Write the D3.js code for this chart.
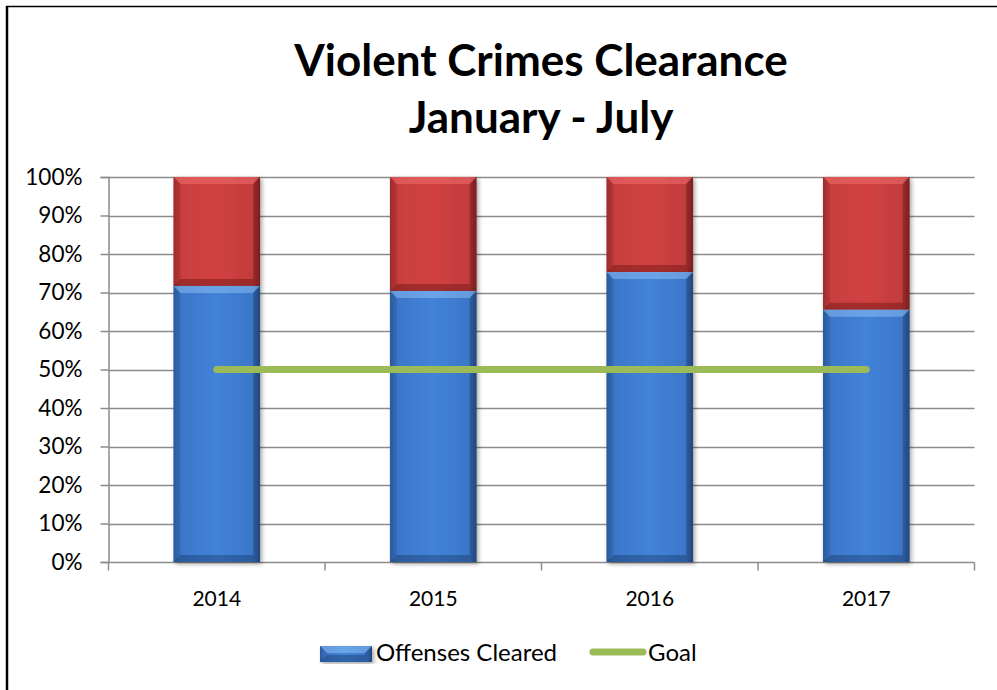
<!DOCTYPE html>
<html><head><meta charset="utf-8">
<script src="https://cdn.jsdelivr.net/npm/d3@7"></script>
<style>
html,body{margin:0;padding:0;background:#fff;}
svg{display:block;}
text{font-family:Lato,"Open Sans",sans-serif;}
</style></head>
<body>
<script>
const categories = ["2014","2015","2016","2017"];
const cleared = [71.7, 70.4, 75.3, 65.5];
const notCleared = [28.3, 29.6, 24.7, 34.5];
const goal = [50, 50, 50, 50];
const yTicks = [0,10,20,30,40,50,60,70,80,90,100];
const titleLines = ["Violent Crimes Clearance","January - July"];

const W=997,H=690;
const svg=d3.select("body").append("svg").attr("width",W).attr("height",H);
const defs=svg.append("defs");

function grad(id, stops, x1,y1,x2,y2){
  const g=defs.append("linearGradient").attr("id",id).attr("x1",x1).attr("y1",y1).attr("x2",x2).attr("y2",y2);
  stops.forEach(s=>g.append("stop").attr("offset",s[0]).attr("stop-color",s[1]));
}
grad("blueH",[["0","#2f62a8"],["0.08","#3c76c8"],["0.5","#4283d8"],["0.92","#3c76c8"],["1","#2a5593"]],0,0,1,0);
grad("redH",[["0","#a83333"],["0.08","#c83e3e"],["0.5","#d24141"],["0.92","#c23c3c"],["1","#8f2a2a"]],0,0,1,0);
const f=defs.append("filter").attr("id","shadow").attr("x","-20%").attr("y","-5%").attr("width","140%").attr("height","115%");
f.append("feDropShadow").attr("dx",2).attr("dy",2).attr("stdDeviation",2).attr("flood-color","#000").attr("flood-opacity",0.35);

// frame
svg.append("line").attr("x1",7).attr("x2",7).attr("y1",6).attr("y2",H).attr("stroke","#000").attr("stroke-width",2.5);
svg.append("line").attr("x1",6).attr("x2",W).attr("y1",6.5).attr("y2",6.5).attr("stroke","#000").attr("stroke-width",1.5);

// title
svg.append("g").selectAll("text").data(titleLines).join("text")
  .attr("x",541).attr("y",(d,i)=>76+i*57).attr("text-anchor","middle")
  .attr("font-size",44).attr("font-weight","bold").attr("fill","#000").text(d=>d);

const x=d3.scaleBand().domain(categories).range([108.5,974.5]).padding(0);
const y=d3.scaleLinear().domain([0,100]).range([562,177]);

// grid
svg.append("g").selectAll("line").data(yTicks.filter(t=>t>0)).join("line")
  .attr("x1",108.5).attr("x2",974.5).attr("y1",d=>Math.round(y(d))+0.5).attr("y2",d=>Math.round(y(d))+0.5)
  .attr("stroke","#8c8c8c").attr("stroke-width",1.5);

// y axis
const yAxis=svg.append("g").attr("transform","translate(108.5,0)")
  .call(d3.axisLeft(y).tickValues(yTicks).tickFormat(d=>d+"%").tickSize(8).tickPadding(18));
yAxis.select(".domain").attr("stroke","#8c8c8c").attr("stroke-width",1.5);
yAxis.selectAll(".tick line").attr("stroke","#8c8c8c").attr("stroke-width",1.5);
yAxis.selectAll("text").attr("font-size",22.5).attr("fill","#000").attr("font-family","Lato,sans-serif");

// x axis
const xa=svg.append("g").attr("transform","translate(0,"+(y(0)+0.5)+")");
xa.append("line").attr("x1",108.5).attr("x2",974.5).attr("stroke","#8c8c8c").attr("stroke-width",1.5);
const bounds=categories.map(c=>x(c)).concat([x(categories[categories.length-1])+x.bandwidth()]);
xa.selectAll("line.t").data(bounds).join("line").attr("class","t")
  .attr("x1",d=>d).attr("x2",d=>d).attr("y1",0).attr("y2",8).attr("stroke","#8c8c8c").attr("stroke-width",1.5);
xa.selectAll("text").data(categories).join("text")
  .attr("x",d=>x(d)+x.bandwidth()/2).attr("y",43).attr("text-anchor","middle")
  .attr("font-size",21).attr("fill","#000").text(d=>d);

// bars
const bw=x.bandwidth()*0.4;
function bevelBar(g, x0, y0, w, h, fillId, light, dark){
  g.append("rect").attr("x",x0).attr("y",y0).attr("width",w).attr("height",h).attr("fill","url(#"+fillId+")").attr("filter","url(#shadow)");
  const b=Math.min(7,h/2);
  g.append("path").attr("d",`M${x0},${y0}L${x0+w},${y0}L${x0+w-b},${y0+b}L${x0+b},${y0+b}Z`).attr("fill",light).attr("opacity",0.4);
  g.append("path").attr("d",`M${x0},${y0+h}L${x0+w},${y0+h}L${x0+w-b},${y0+h-b}L${x0+b},${y0+h-b}Z`).attr("fill",dark).attr("opacity",0.3);
  g.append("path").attr("d",`M${x0},${y0}L${x0+b},${y0+b}L${x0+b},${y0+h-b}L${x0},${y0+h}Z`).attr("fill",dark).attr("opacity",0.12);
  g.append("path").attr("d",`M${x0+w},${y0}L${x0+w-b},${y0+b}L${x0+w-b},${y0+h-b}L${x0+w},${y0+h}Z`).attr("fill",dark).attr("opacity",0.28);
}
const bars=svg.append("g");
categories.forEach((c,i)=>{
  const cx=x(c)+x.bandwidth()/2-bw/2;
  const g=bars.append("g");
  bevelBar(g,cx,y(100),bw,y(cleared[i])-y(100),"redH","#ff8080","#400000");
  bevelBar(g,cx,y(cleared[i]),bw,y(0)-y(cleared[i]),"blueH","#a8d4ff","#0a2040");
});

// goal line
const line=d3.line().x((d,i)=>x(categories[i])+x.bandwidth()/2).y(d=>y(d));
svg.append("path").datum(goal).attr("d",line).attr("fill","none")
  .attr("stroke","#9bbb59").attr("stroke-width",7).attr("stroke-linecap","round");

// legend
const lg=svg.append("g");
const lgs=lg.append("g");
bevelBar(lgs,320,646,52,16,"blueH","#a8d4ff","#0a2040");
lg.append("text").attr("x",376).attr("y",661).attr("font-size",24).attr("fill","#000").text("Offenses Cleared");
lg.append("line").attr("x1",593).attr("x2",643).attr("y1",652).attr("y2",652).attr("stroke","#9bbb59").attr("stroke-width",7).attr("stroke-linecap","round");
lg.append("text").attr("x",648).attr("y",661).attr("font-size",24).attr("fill","#000").text("Goal");
</script>
</body></html>
